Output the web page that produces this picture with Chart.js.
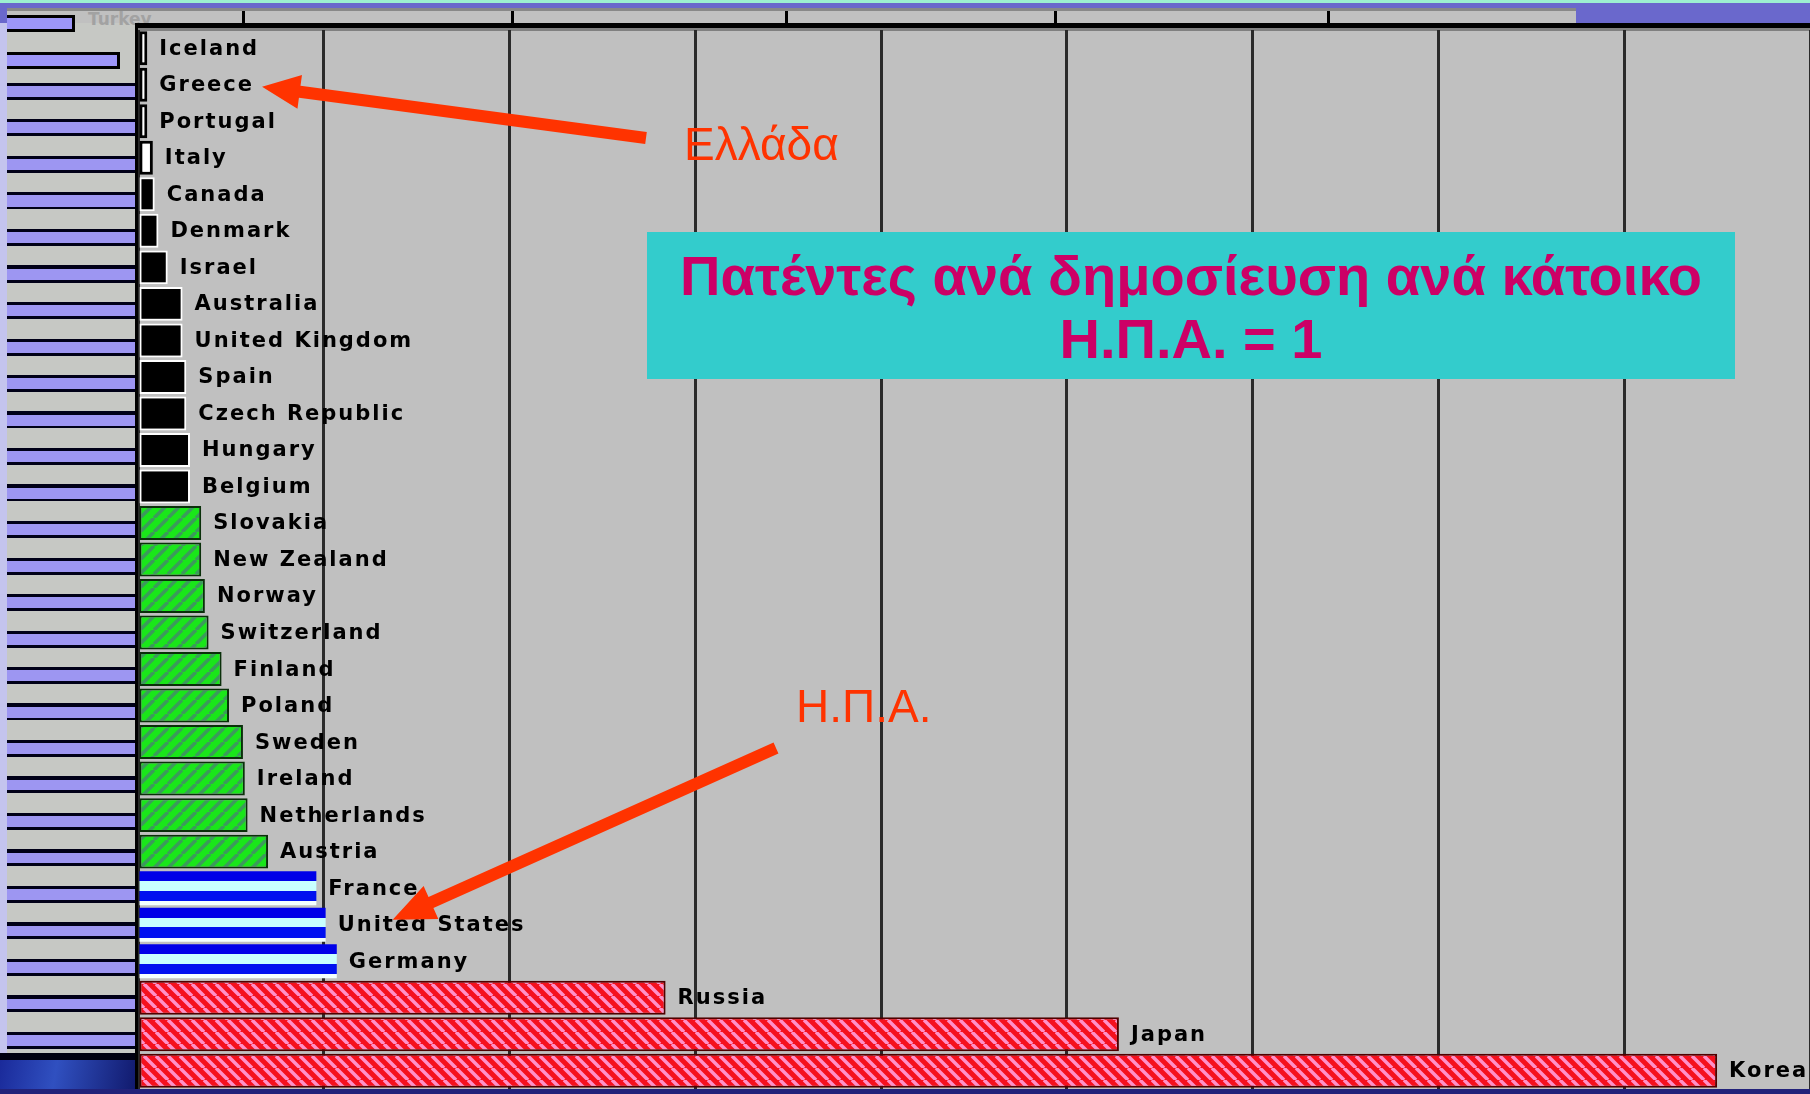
<!DOCTYPE html>
<html>
<head>
<meta charset="utf-8">
<script src="https://cdn.jsdelivr.net/npm/chart.js@4.4.1/dist/chart.umd.min.js"></script>
<style>
  html, body { margin: 0; padding: 0; }
  body { width: 1810px; height: 1094px; position: relative; overflow: hidden; background: #c4c4ee; font-family: "Liberation Sans", Arial, sans-serif; }
  .abs { position: absolute; }
  #teal { left: 0; top: 0; width: 1810px; height: 3px; background: #9cf0d0; }
  #purple { left: 0; top: 3px; width: 1810px; height: 20px; background: #6a68cc; }
  #strip { left: 7px; top: 8px; width: 1569px; height: 15px; background: #c0c0c0; border-top: 3px solid #888; box-sizing: border-box; }
  .tick { top: 11px; width: 3px; height: 12px; background: #000; }
  #stripes { left: 7px; top: 83px; width: 128px; height: 970px;
    background: repeating-linear-gradient(to bottom, #000018 0 3px, #9d96f2 3px 14px, #000018 14px 17px, #c6c8c4 17px 36.5px); }
  .short { left: 7px; height: 11px; background: #9d96f8; border-top: 3px solid #000; border-bottom: 3px solid #000; border-right: 3px solid #000; }
  #leftFill { left: 7px; top: 23px; width: 128px; height: 60px; background: #c6c8c4; }
  #blackBand { left: 0; top: 1053px; width: 135px; height: 7px; background: #000010; }
  #ocean { left: 0; top: 1060px; width: 138px; height: 34px; background: linear-gradient(100deg, #1a2a9a 0%, #3050c0 40%, #10186a 100%); }
  #bottom { left: 0; top: 1089px; width: 1810px; height: 5px; background: #22227a; }
  #turkey { left: 88px; top: 9px; font: bold 17px "DejaVu Sans", sans-serif; color: #a2a2a2; }
  canvas { position: absolute; left: 0; top: 0; }
  #titleBox { left: 647px; top: 232px; width: 1088px; height: 147px; background: #33cccc; color: #cc0066;
    font: bold 56px/63px "Liberation Sans", Arial, sans-serif; text-align: center; padding-top: 12px; box-sizing: border-box; white-space: nowrap; }
  .note { color: #ff3300; font: 46px/46px "Liberation Sans", Arial, sans-serif; white-space: nowrap; }
</style>
</head>
<body>
<div class="abs" id="teal"></div>
<div class="abs" id="purple"></div>
<div class="abs" id="strip"></div>
<div class="abs tick" style="left:242px"></div>
<div class="abs tick" style="left:511px"></div>
<div class="abs tick" style="left:785px"></div>
<div class="abs tick" style="left:1054px"></div>
<div class="abs tick" style="left:1327px"></div>
<div class="abs" id="leftFill"></div>
<div class="abs short" style="top:15px; width:65px"></div>
<div class="abs short" style="top:52px; width:110px"></div>
<div class="abs" id="stripes"></div>
<div class="abs" id="blackBand"></div>
<div class="abs" id="ocean"></div>
<div class="abs" id="bottom"></div>
<div class="abs" id="turkey">Turkey</div>

<canvas id="chart" width="1810" height="1094"></canvas>

<div class="abs" id="titleBox">Πατέντες ανά δημοσίευση ανά κάτοικο<br>Η.Π.Α. = 1</div>
<div class="abs note" style="left:684px; top:121px">Ελλάδα</div>
<div class="abs note" style="left:796px; top:683px">Η.Π.Α.</div>

<script>
// Πατέντες ανά δημοσίευση ανά κάτοικο, Η.Π.Α. = 1

const countries = [
  'Iceland', 'Greece', 'Portugal', 'Italy', 'Canada', 'Denmark', 'Israel', 'Australia',
  'United Kingdom', 'Spain', 'Czech Republic', 'Hungary', 'Belgium', 'Slovakia', 'New Zealand',
  'Norway', 'Switzerland', 'Finland', 'Poland', 'Sweden', 'Ireland', 'Netherlands', 'Austria',
  'France', 'United States', 'Germany', 'Russia', 'Japan', 'Korea'
];

const values = [
  0.05, 0.05, 0.05, 0.08, 0.09, 0.11, 0.16, 0.24,
  0.24, 0.26, 0.26, 0.28, 0.28, 0.34, 0.34,
  0.36, 0.38, 0.45, 0.49, 0.565, 0.575, 0.59, 0.70,
  0.96, 1.01, 1.07, 2.84, 5.28, 8.50
];

// ομάδα κάθε χώρας (καθορίζει το χρώμα της μπάρας)
const groups = [
  'white', 'white', 'white', 'white',
  'black', 'black', 'black', 'black', 'black', 'black', 'black', 'black', 'black',
  'green', 'green', 'green', 'green', 'green', 'green', 'green', 'green', 'green', 'green',
  'blue', 'blue', 'blue',
  'red', 'red', 'red'
];

const xMax = 9;

function makeHatch(bg, fg, size, dir, lw) {
  const c = document.createElement('canvas');
  c.width = c.height = size;
  const g = c.getContext('2d');
  g.fillStyle = bg;
  g.fillRect(0, 0, size, size);
  g.strokeStyle = fg;
  g.lineWidth = lw;
  g.beginPath();
  for (const o of [-size, 0, size]) {
    if (dir === '\\') { g.moveTo(o, 0); g.lineTo(o + size, size); }
    else { g.moveTo(o, size); g.lineTo(o + size, 0); }
  }
  g.stroke();
  return g.createPattern(c, 'repeat');
}

const redHatch = makeHatch('#f5101e', '#ff90c8', 12, '\\', 3.5);
const greenHatch = makeHatch('#1ae61a', '#3c9a5c', 14, '/', 3.5);

function blueStripes(ctx) {
  const chart = ctx.chart;
  const ys = chart.scales.y;
  if (!ys || !chart.chartArea) return '#0000ee';
  const cy = ys.getPixelForValue(ctx.dataIndex);
  const h = ys.height / countries.length * 0.93;
  const g = chart.ctx.createLinearGradient(0, cy - h / 2, 0, cy + h / 2);
  g.addColorStop(0, '#0000e8');
  g.addColorStop(0.3, '#0000e8');
  g.addColorStop(0.3, '#c8ffff');
  g.addColorStop(0.58, '#c8ffff');
  g.addColorStop(0.58, '#0010f0');
  g.addColorStop(0.88, '#0010f0');
  g.addColorStop(0.88, '#f4ffff');
  g.addColorStop(1, '#f4ffff');
  return g;
}

const FILL = { white: '#ffffff', black: '#000000', green: greenHatch, red: redHatch };
const EDGE = { white: '#000000', black: '#ffffff', green: '#0a300a', blue: '#000060', red: '#500000' };
const EDGE_W = { white: 3, black: 2, green: 2, blue: 0, red: 2 };

const LABEL_FONT = 'bold 21px "DejaVu Sans", sans-serif';

const framePlugin = {
  id: 'frame',
  beforeDraw(chart) {
    const { ctx, chartArea: a } = chart;
    ctx.save();
    ctx.fillStyle = '#c0c0c0';
    ctx.fillRect(a.left, a.top - 2, a.right - a.left, a.bottom - a.top + 2);
    ctx.fillStyle = '#808080';
    ctx.fillRect(a.left, a.top - 2, a.right - a.left, 3);
    ctx.restore();
  },
  afterDraw(chart) {
    const { ctx, chartArea: a } = chart;
    ctx.save();
    ctx.fillStyle = '#000';
    ctx.fillRect(a.left - 3, a.top - 7, a.right - a.left + 3, 5);
    ctx.fillRect(a.left - 3, a.top - 7, 3, a.bottom - a.top + 7);
    ctx.restore();
  }
};

function drawArrow(ctx, x1, y1, x2, y2, shaft, headLen, headHalf) {
  const dx = x2 - x1, dy = y2 - y1;
  const len = Math.hypot(dx, dy);
  const ux = dx / len, uy = dy / len;
  const nx = -uy, ny = ux;
  const bx = x2 - ux * headLen, by = y2 - uy * headLen;
  ctx.beginPath();
  ctx.moveTo(x1 + nx * shaft / 2, y1 + ny * shaft / 2);
  ctx.lineTo(bx + nx * shaft / 2, by + ny * shaft / 2);
  ctx.lineTo(bx + nx * headHalf, by + ny * headHalf);
  ctx.lineTo(x2, y2);
  ctx.lineTo(bx - nx * headHalf, by - ny * headHalf);
  ctx.lineTo(bx - nx * shaft / 2, by - ny * shaft / 2);
  ctx.lineTo(x1 - nx * shaft / 2, y1 - ny * shaft / 2);
  ctx.closePath();
  ctx.fill();
}

const labelPlugin = {
  id: 'barLabels',
  afterDatasetsDraw(chart) {
    const ctx = chart.ctx;
    const bars = chart.getDatasetMeta(0).data;
    ctx.save();
    ctx.font = LABEL_FONT;
    ctx.letterSpacing = '2px';
    ctx.fillStyle = '#000';
    ctx.textBaseline = 'middle';
    bars.forEach((bar, i) => {
      ctx.fillText(countries[i], bar.x + 12, bar.y + 1);
    });

    // βέλη προς Ελλάδα και Η.Π.Α.
    ctx.fillStyle = '#ff3300';
    const gr = bars[countries.indexOf('Greece')];
    const grEnd = gr.x + 12 + ctx.measureText('Greece').width + 8;
    drawArrow(ctx, 646, 138, grEnd, gr.y + 2, 12, 38, 17);
    const us = bars[countries.indexOf('United States')];
    drawArrow(ctx, 776, 748, us.x + 67, us.y - 5, 12, 42, 18);
    ctx.restore();
  }
};

new Chart(document.getElementById('chart'), {
  type: 'bar',
  data: {
    labels: countries,
    datasets: [{
      data: values,
      backgroundColor: (ctx) => groups[ctx.dataIndex] === 'blue' ? blueStripes(ctx) : FILL[groups[ctx.dataIndex]],
      borderColor: (ctx) => EDGE[groups[ctx.dataIndex]],
      borderWidth: (ctx) => EDGE_W[groups[ctx.dataIndex]],
      borderSkipped: false,
      barPercentage: 0.93,
      categoryPercentage: 1
    }]
  },
  options: {
    indexAxis: 'y',
    responsive: false,
    animation: false,
    layout: { padding: { left: 138, right: 0, top: 30, bottom: 5 } },
    plugins: { legend: { display: false }, tooltip: { enabled: false } },
    scales: {
      x: {
        min: 0,
        max: xMax,
        ticks: { display: false, stepSize: 1 },
        grid: { color: '#2a2a2a', lineWidth: 3, drawTicks: false },
        border: { display: false }
      },
      y: { display: false }
    }
  },
  plugins: [framePlugin, labelPlugin]
});
</script>
</body>
</html>
